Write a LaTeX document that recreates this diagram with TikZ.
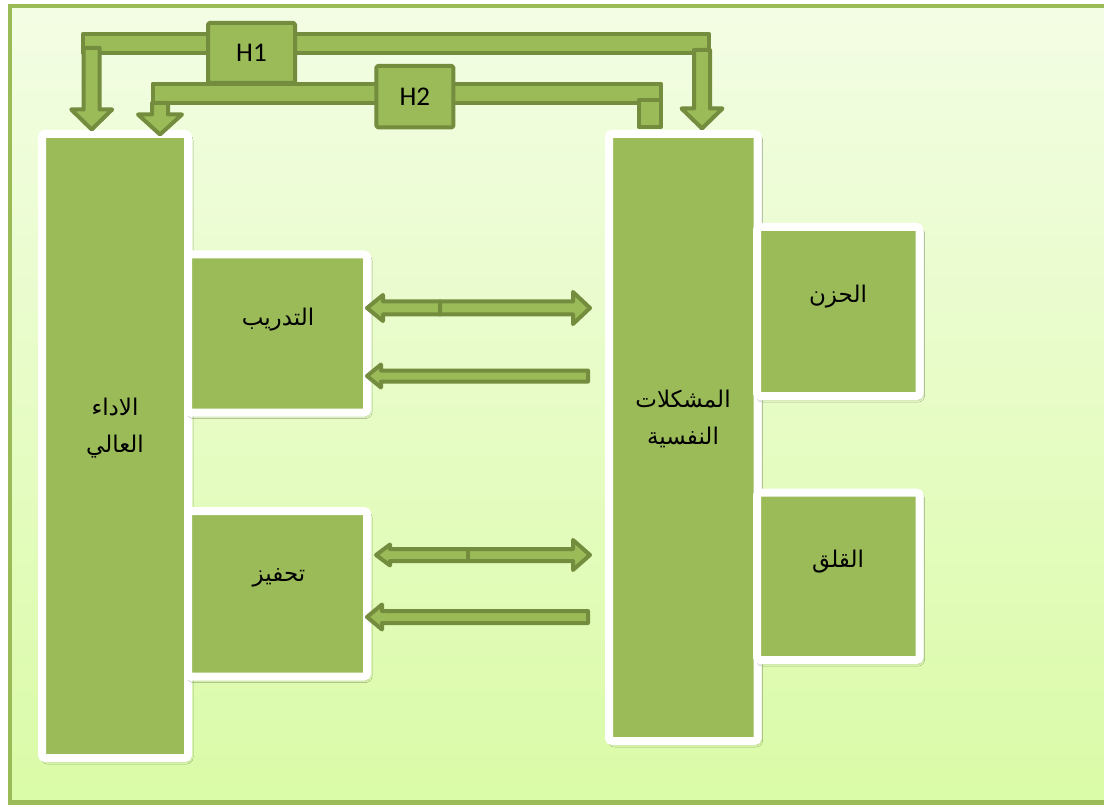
\documentclass[tikz,border=0pt]{standalone}
\usepackage{fontspec}
\setmainfont{Carlito}
\newfontfamily\arabicfont[Script=Arabic]{DejaVu Sans}
\TeXXeTstate=1
\usetikzlibrary{calc,shadows.blur}
\definecolor{olive}{HTML}{9BBB59}
\definecolor{olivedark}{HTML}{738C3E}
\definecolor{bgtop}{HTML}{F3FDE4}
\definecolor{bgbot}{HTML}{DAFBA7}
% horizontal block arrow: #1 tail, #2 tip, #3 shaft half width, #4 head half width, #5 signed head length (+ = points left)
\newcommand\blkh[5]{%
  \draw[blk] ($(#1)+(0,#3)$) -- ($(#2)+(#5,#3)$) -- ($(#2)+(#5,#4)$) -- (#2) -- ($(#2)+(#5,-#4)$) -- ($(#2)+(#5,-#3)$) -- ($(#1)+(0,-#3)$) -- cycle;}
% vertical block arrow pointing down: #1 tail, #2 tip
\newcommand\blkv[5]{%
  \draw[blk] ($(#1)+(-#3,0)$) -- ($(#2)+(-#3,-#5)$) -- ($(#2)+(-#4,-#5)$) -- (#2) -- ($(#2)+(#4,-#5)$) -- ($(#2)+(#3,-#5)$) -- ($(#1)+(#3,0)$) -- cycle;}
\begin{document}
\begin{tikzpicture}[x=1pt,y=-1pt,
  box/.style={draw=white, line width=8pt, fill=olive, rounded corners=3pt, inner sep=0pt, outer sep=0pt,
    blur shadow={shadow xshift=2pt,shadow yshift=-3pt,shadow blur radius=3pt,shadow opacity=35}},
  blk/.style={draw=olivedark, fill=olive, line width=4pt, line join=round},
  hbox/.style={blk, rounded corners=1.5pt, inner sep=0pt, outer sep=0pt, font=\fontsize{27}{30}\selectfont},
  lbl/.style={font=\arabicfont\fontsize{23}{37}\selectfont, text=black, align=center, inner sep=0pt}
]
\useasboundingbox (0,0) rectangle (1104,805);
\fill[white] (0,0) rectangle (1104,805);
\shade[top color=bgtop, bottom color=bgbot] (10,6) rectangle (1106,802.5);
\draw[olive, line width=4.5pt] (10,6) rectangle (1106,802.5);

% main boxes
\node[box, anchor=north west, minimum width=146pt, minimum height=624pt] (perf) at (42,134) {};
\node[box, anchor=north west, minimum width=148.5pt, minimum height=607pt] (psy) at (609,134) {};
\node[box, anchor=north west, minimum width=179pt, minimum height=158pt] (train) at (188,254.5) {};
\node[box, anchor=north west, minimum width=179pt, minimum height=165.5pt] (motiv) at (188,511) {};
\node[box, anchor=north west, minimum width=162.5pt, minimum height=169pt] (sad) at (757,227) {};
\node[box, anchor=north west, minimum width=162.5pt, minimum height=167.5pt] (anx) at (757,492.5) {};

% labels
\node[lbl] (perfT) at (115,428.5) {\beginR الاداء\endR\\\beginR العالي\endR};
\node[lbl] (psyT) at (683,419) {\beginR المشكلات\endR\\\beginR النفسية\endR};
\node[lbl] (trainT) at (278,320) {\beginR التدريب\endR};
\node[lbl] (motivT) at (279,578) {\beginR تحفيز\endR};
\node[lbl] (sadT) at (838,297) {\beginR الحزن\endR};
\node[lbl] (anxT) at (838,562) {\beginR القلق\endR};

% arrow end coordinates
\coordinate (a1L) at (367,308);  \coordinate (a1M) at (440,308);  \coordinate (a1R) at (590,308);
\coordinate (a2L) at (367,376);  \coordinate (a2R) at (588,376);
\coordinate (a3L) at (376,555);  \coordinate (a3M) at (468,555);  \coordinate (a3R) at (590,555);
\coordinate (a4L) at (367,617);  \coordinate (a4R) at (588,617);

\blkh{a1M}{a1L}{6.5}{13}{16}
\blkh{a1M}{a1R}{6.5}{16}{-17}
\blkh{a2R}{a2L}{5.5}{11.5}{14}
\blkh{a3M}{a3L}{6}{10.5}{14}
\blkh{a3M}{a3R}{6}{15}{-17}
\blkh{a4R}{a4L}{6}{12.5}{15}

% hypothesis connectors
\coordinate (b1NW) at (82.7,34.3); \coordinate (b1SE) at (709,52.7);
\coordinate (b2NW) at (152.7,83.7); \coordinate (b2SE) at (661,103);
\coordinate (s2NW) at (638.7,100); \coordinate (s2SE) at (660.8,127);
\coordinate (v1T) at (91.7,48);  \coordinate (v1P) at (91.7,129.5);
\coordinate (v2T) at (702,50);   \coordinate (v2P) at (702,128.5);
\coordinate (v3T) at (160,103);  \coordinate (v3P) at (160,134.5);

\draw[blk] (b1NW) rectangle (b1SE);
\blkv{v1T}{v1P}{8}{20.5}{20}
\blkv{v2T}{v2P}{8}{20.5}{20}
\draw[blk] (b2NW) rectangle (b2SE);
\draw[blk] (s2NW) rectangle (s2SE);
\blkv{v3T}{v3P}{8}{22}{20}

\node[hbox, anchor=north west, minimum width=87pt, minimum height=60pt] (h1) at (208,23) {H1};
\node[hbox, anchor=north west, minimum width=77pt, minimum height=61.3pt] (h2) at (376.4,66) {H2};
\end{tikzpicture}
\end{document}
